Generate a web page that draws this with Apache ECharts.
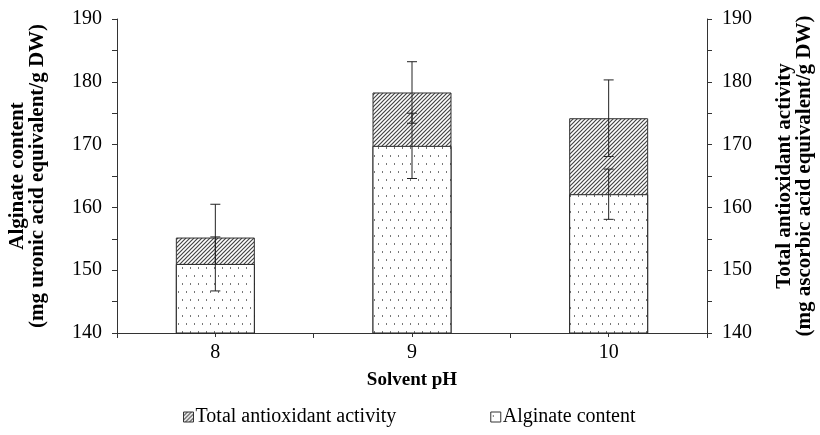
<!DOCTYPE html>
<html>
<head>
<meta charset="utf-8">
<script src="https://cdn.jsdelivr.net/npm/echarts@6/dist/echarts.min.js"></script>
<style>
  html, body { margin: 0; padding: 0; background: #fff; }
  #chart { width: 820px; height: 435px; }
</style>
</head>
<body>
<div id="chart"></div>
<script>
// data
const categories = ['8', '9', '10'];
const alginate = [151.0, 169.8, 162.1];
const alginateErr = [4.3, 5.2, 4.0];
const antioxidant = [155.2, 178.3, 174.2];
const antioxidantErr = [5.3, 4.9, 6.1];
const yTicks = [140, 150, 160, 170, 180, 190];

const FONT = '"Liberation Serif", "Times New Roman", serif';

// fill patterns
function hatchPattern() {
  const c = document.createElement('canvas');
  c.width = 4; c.height = 4;
  const g = c.getContext('2d');
  g.fillStyle = '#fff';
  g.fillRect(0, 0, 4, 4);
  g.strokeStyle = '#444';
  g.lineWidth = 1.2;
  g.beginPath();
  g.moveTo(0, 4); g.lineTo(4, 0);
  g.moveTo(-1, 1); g.lineTo(1, -1);
  g.moveTo(3, 5); g.lineTo(5, 3);
  g.stroke();
  return { image: c, repeat: 'repeat' };
}
function dotPattern() {
  const c = document.createElement('canvas');
  c.width = 8; c.height = 16;
  const g = c.getContext('2d');
  g.fillStyle = '#fff';
  g.fillRect(0, 0, 8, 16);
  g.fillStyle = '#777';
  g.fillRect(2, 3, 1, 2);
  g.fillRect(6, 11, 1, 2);
  return { image: c, repeat: 'repeat' };
}
const hatch = hatchPattern();
const dots = dotPattern();

function errorBars(vals, errs) {
  return vals.map((v, i) => [i, v, errs[i]]);
}
function renderErr(params, api) {
  const i = api.value(0), v = api.value(1), e = api.value(2);
  const top = api.coord([i, v + e]);
  const bot = api.coord([i, v - e]);
  const half = 5;
  const st = { stroke: '#222', lineWidth: 1 };
  return {
    type: 'group',
    children: [
      { type: 'line', shape: { x1: top[0], y1: top[1], x2: bot[0], y2: bot[1] }, style: st },
      { type: 'line', shape: { x1: top[0] - half, y1: top[1], x2: top[0] + half, y2: top[1] }, style: st },
      { type: 'line', shape: { x1: bot[0] - half, y1: bot[1], x2: bot[0] + half, y2: bot[1] }, style: st }
    ]
  };
}

const yAxisCommon = {
  type: 'value',
  min: yTicks[0],
  max: yTicks[yTicks.length - 1],
  interval: 10,
  nameLocation: 'middle',
  nameRotate: 90,
  nameTextStyle: { fontFamily: FONT, fontSize: 21, fontWeight: 'bold', color: '#000', lineHeight: 20 },
  axisLine: { show: true, lineStyle: { color: '#333', width: 1 } },
  axisTick: { show: true, length: 5, lineStyle: { color: '#333' } },
  minorTick: { show: true, splitNumber: 2, length: 5, lineStyle: { color: '#333' } },
  splitLine: { show: false },
  axisLabel: { fontFamily: FONT, fontSize: 20, color: '#000', margin: 15 }
};

const chart = echarts.init(document.getElementById('chart'));
chart.setOption({
  animation: false,
  grid: { left: 117, right: 113, top: 19, bottom: 102, containLabel: false, outerBoundsMode: 'none' },
  legend: {
    left: 178,
    top: 402,
    itemWidth: 10,
    itemHeight: 10,
    itemGap: 94,
    textStyle: { fontFamily: FONT, fontSize: 20, color: '#000', padding: [0, 0, 0, -3] },
    data: [
      { name: 'Total antioxidant activity', icon: 'rect', itemStyle: { color: hatch, borderColor: '#333', borderWidth: 1 } },
      { name: 'Alginate content', icon: 'rect', itemStyle: { color: dots, borderColor: '#333', borderWidth: 1 } }
    ]
  },
  xAxis: [
    {
      type: 'category',
      data: categories,
      name: 'Solvent pH',
      nameLocation: 'middle',
      nameGap: 38,
      nameTextStyle: { fontFamily: FONT, fontSize: 19, fontWeight: 'bold', color: '#000' },
      axisLine: { lineStyle: { color: '#333' } },
      axisTick: { show: true, length: 5, lineStyle: { color: '#333' } },
      axisLabel: { fontFamily: FONT, fontSize: 20, color: '#000', margin: 10 }
    },
    {
      type: 'category',
      data: categories,
      position: 'bottom',
      axisLine: { show: false },
      axisTick: { show: true, alignWithLabel: true, length: 4, lineStyle: { color: '#333' } },
      axisLabel: { show: false }
    }
  ],
  yAxis: [
    Object.assign({}, yAxisCommon, {
      position: 'left',
      name: 'Alginate content\n(mg uronic acid equivalent/g DW)',
      nameGap: 69
    }),
    Object.assign({}, yAxisCommon, {
      position: 'right',
      name: 'Total antioxidant activity\n(mg ascorbic acid equivalent/g DW)',
      nameGap: 68
    })
  ],
  series: [
    {
      name: 'Total antioxidant activity',
      type: 'bar',
      yAxisIndex: 1,
      barWidth: 79,
      barGap: '-100%',
      z: 2,
      itemStyle: { color: hatch, borderColor: '#333', borderWidth: 1 },
      data: antioxidant
    },
    {
      name: 'antioxidant error',
      type: 'custom',
      yAxisIndex: 1,
      z: 3,
      renderItem: renderErr,
      data: errorBars(antioxidant, antioxidantErr)
    },
    {
      name: 'Alginate content',
      type: 'bar',
      yAxisIndex: 0,
      barWidth: 79,
      barGap: '-100%',
      z: 4,
      itemStyle: { color: dots, borderColor: '#222', borderWidth: 1 },
      data: alginate
    },
    {
      name: 'alginate error',
      type: 'custom',
      yAxisIndex: 0,
      z: 5,
      renderItem: renderErr,
      data: errorBars(alginate, alginateErr)
    }
  ]
});
</script>
</body>
</html>
